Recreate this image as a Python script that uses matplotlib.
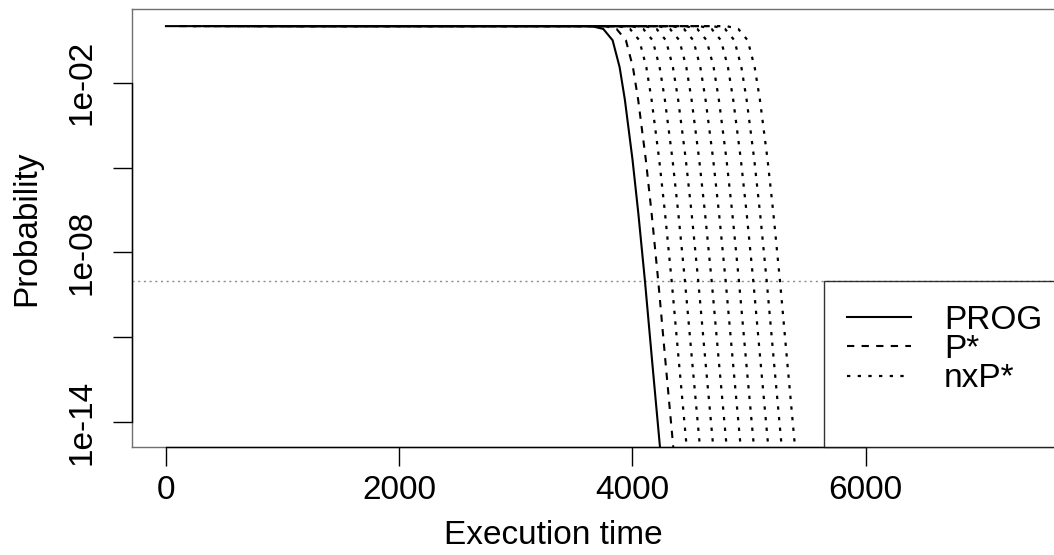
import numpy as np
import matplotlib
matplotlib.use('Agg')
import matplotlib.pyplot as plt
from matplotlib.lines import Line2D

# PROG curve: execution time vs log10(probability)
prog_x = [0, 3650, 3750, 3830, 3890, 3935, 4000, 4050, 4107, 4170, 4236, 4300]
prog_logp = [0, 0, -0.1, -0.5, -1.45, -2.6, -4.7, -6.6, -9.0, -11.9, -14.88, -18.0]

# the other curves have the same shape, shifted right (time units)
pstar_shift = 114
nxpstar_shifts = [229, 343, 457, 572, 692, 806, 929, 1044, 1158]

threshold = 1e-9

ytick_vals = [1e-2, 1e-5, 1e-8, 1e-11, 1e-14]
ytick_labels = ['1e-02', '', '1e-08', '', '1e-14']
xtick_vals = [0, 2000, 4000, 6000]

plt.rcParams['font.family'] = ['Liberation Sans', 'DejaVu Sans']
fs = 24

W, H = 1054, 555
ax_l, ax_r, ax_t, ax_b = 131.7, 1057.5, 9.3, 447.0   # pixels, right edge is cropped
fig = plt.figure(figsize=(W / 100, H / 100), dpi=100, facecolor='white')
ax = fig.add_axes([ax_l / W, (H - ax_b) / H, (ax_r - ax_l) / W, (ax_b - ax_t) / H])

x = np.array(prog_x, dtype=float)
p = 10.0 ** np.array(prog_logp)

ax.axhline(threshold, color='#8c8c8c', lw=1.0, ls=(0, (1.5, 2.6)), zorder=1)

ax.plot(x, p, color='black', lw=1.5, label='PROG', zorder=3)
ax.plot(x + pstar_shift, p, color='black', lw=1.5, ls=(0, (3.5, 3.5)), label='P*', zorder=3)
for i, s in enumerate(nxpstar_shifts):
    ax.plot(x + s, p, color='black', lw=1.6, ls=(0, (1.5, 3.3)),
            label='nxP*' if i == 0 else None, zorder=3)

ax.set_yscale('log')
ax.set_xlim(-294, 7645)
ax.set_ylim(10 ** -14.88, 10 ** 0.595)

ax.set_yticks(ytick_vals)
ax.set_yticklabels(ytick_labels)
ax.minorticks_off()
ax.set_xticks(xtick_vals)
ax.set_xticklabels([str(v) for v in xtick_vals])

ax.tick_params(axis='both', direction='out', length=14, width=1.0, color='black',
               labelsize=fs)
ax.tick_params(axis='x', pad=6)
ax.tick_params(axis='y', pad=10.5)
for lab in ax.get_yticklabels():
    lab.set_rotation(90)
    lab.set_va('center')

for sp in ax.spines.values():
    sp.set_color('#707070')
    sp.set_linewidth(1.0)
# R-style axis lines from first to last tick
ax.plot([0, 6000], [0, 0], transform=ax.get_xaxis_transform(), color='black',
        lw=1.0, clip_on=False, zorder=5)
ax.plot([0, 0], [1e-14, 1e-2], transform=ax.get_yaxis_transform(), color='black',
        lw=1.0, clip_on=False, zorder=5)

axw = ax_r - ax_l
axh = ax_b - ax_t
ax.set_xlabel('Execution time', fontsize=fs)
ax.xaxis.set_label_coords((553 - ax_l) / axw, -(520 - ax_b) / axh)
ax.set_ylabel('Probability', fontsize=fs)
ax.yaxis.set_label_coords((42 - ax_l) / axw, 0.5)

handles, labels = ax.get_legend_handles_labels()
handles.append(Line2D([], [], color='none'))
labels.append(' ')
leg = ax.legend(handles, labels, loc='lower left', bbox_to_anchor=(824 / W, (H - ax_b) / H),
                bbox_transform=fig.transFigure, borderaxespad=0, fontsize=fs,
                frameon=True, fancybox=False, handlelength=1.9, handletextpad=1.0,
                borderpad=0.7, labelspacing=-0.05)
leg.get_frame().set_edgecolor('black')
leg.get_frame().set_linewidth(1.0)
leg.set_zorder(10)

fig.savefig('out.png', dpi=100, facecolor='white')
